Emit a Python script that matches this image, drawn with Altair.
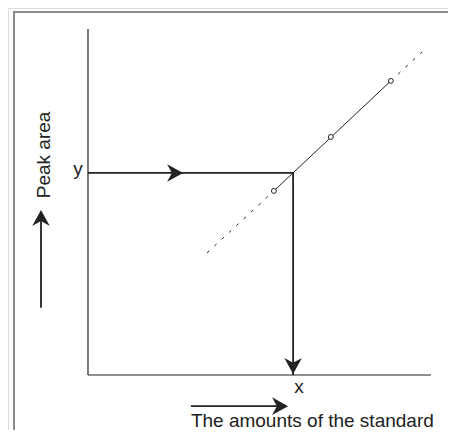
import altair as alt
import pandas as pd

# ---- data (diagram units: axis origin = 0, axis end = 10) ----
axis_end_x = 10.0
axis_end_y = 10.0
cal_x = [5.42, 7.08, 8.83]          # calibration standards
cal_y = [5.32, 6.88, 8.50]
ext_low = [3.47, 3.53]              # dashed extrapolation ends
ext_high = [9.74, 9.34]
sample_x = 5.98                     # unknown sample
sample_y = 5.84
label_y_pos = [-0.15, 5.78]
label_x_pos = [6.15, -0.52]
peak_label_pos = [-1.11, 6.36]
std_label_pos = [3.00, -1.50]
up_arrow = [-1.37, 1.94, 4.77]      # x, y-from, y-to
right_arrow = [-0.90, 3.00, 5.83]   # y, x-from, x-to
head_right_x = 2.54
head_down_y = 0.26

xdom = [-2.332, 10.496]
ydom = [-1.590, 10.607]
W, H = 440, 422
INK = "#222222"
FONT = "Liberation Sans"

xs = alt.Scale(domain=xdom, nice=False, zero=False)
ys = alt.Scale(domain=ydom, nice=False, zero=False)

def seg_df(rows):
    return pd.DataFrame(rows, columns=["x", "y", "x2", "y2"])

def rules(df, **kw):
    return alt.Chart(df).mark_rule(color=INK, **kw).encode(
        x=alt.X("x:Q", scale=xs, axis=None),
        y=alt.Y("y:Q", scale=ys, axis=None),
        x2="x2:Q",
        y2="y2:Q",
    )

axes = rules(seg_df([[0, 0, axis_end_x, 0], [0, 0, 0, axis_end_y]]), strokeWidth=1.2)

guides = rules(seg_df([[0, sample_y, sample_x, sample_y],
                       [sample_x, sample_y, sample_x, 0]]), strokeWidth=1.8)

solid = rules(seg_df([[cal_x[0], cal_y[0], cal_x[-1], cal_y[-1]]]), strokeWidth=1)

dashed = rules(seg_df([[ext_low[0], ext_low[1], cal_x[0], cal_y[0]],
                       [cal_x[-1], cal_y[-1], ext_high[0], ext_high[1]]]),
               strokeWidth=1, strokeDash=[3, 7])

label_arrows = rules(seg_df([[up_arrow[0], up_arrow[1], up_arrow[0], up_arrow[2] - 0.3],
                             [right_arrow[1], right_arrow[0], right_arrow[2] - 0.3, right_arrow[0]]]),
                     strokeWidth=1.8)

pts = alt.Chart(pd.DataFrame({"x": cal_x, "y": cal_y})).mark_point(
    shape="circle", size=24, filled=False, fill="white", stroke=INK, strokeWidth=1, opacity=1
).encode(x=alt.X("x:Q", scale=xs, axis=None), y=alt.Y("y:Q", scale=ys, axis=None))

RIGHT = "M1,0L-1,-1.1L-0.4,0L-1,1.1Z"
DOWN = "M0,1L-1.1,-1L0,-0.4L1.1,-1Z"
UP = "M0,-1L-1.1,1L0,0.4L1.1,1Z"

def head(x, y, shape):
    return alt.Chart(pd.DataFrame({"x": [x], "y": [y]})).mark_point(
        shape=shape, size=256, filled=True, color=INK, opacity=1, strokeWidth=0
    ).encode(x=alt.X("x:Q", scale=xs, axis=None), y=alt.Y("y:Q", scale=ys, axis=None))

heads = alt.layer(
    head(head_right_x, sample_y, RIGHT),
    head(sample_x, head_down_y, DOWN),
    head(up_arrow[0], up_arrow[2] - 0.23, UP),
    head(right_arrow[2] - 0.23, right_arrow[0], RIGHT),
)

def label(txt, pos, **kw):
    return alt.Chart(pd.DataFrame({"x": [pos[0]], "y": [pos[1]], "t": [txt]})).mark_text(
        font=FONT, fontSize=19, color=INK, **kw
    ).encode(x=alt.X("x:Q", scale=xs, axis=None), y=alt.Y("y:Q", scale=ys, axis=None), text="t:N")

texts = alt.layer(
    label("y", label_y_pos, align="right", baseline="alphabetic"),
    label("x", label_x_pos, align="center", baseline="alphabetic"),
    label("Peak area", peak_label_pos, align="center", baseline="alphabetic", angle=270),
    label("The amounts of the standard", std_label_pos, align="left", baseline="alphabetic"),
)

frame_top = alt.Chart(pd.DataFrame({"a": [0]})).mark_rule(color="#8a8a8a", strokeWidth=2).encode(
    x=alt.value(6), x2=alt.value(W), y=alt.value(4))
frame_left = alt.Chart(pd.DataFrame({"a": [0]})).mark_rule(color="#8a8a8a", strokeWidth=2).encode(
    x=alt.value(6), y=alt.value(3), y2=alt.value(H))

chart = alt.layer(
    frame_top, frame_left, axes, dashed, solid, guides, label_arrows, pts, heads, texts
).properties(
    width=W, height=H, padding=0, autosize=alt.AutoSizeParams(type="none")
).configure_view(stroke=None).configure(background="white")

chart.save("out.html", embed_options={"renderer": "svg", "actions": False})
